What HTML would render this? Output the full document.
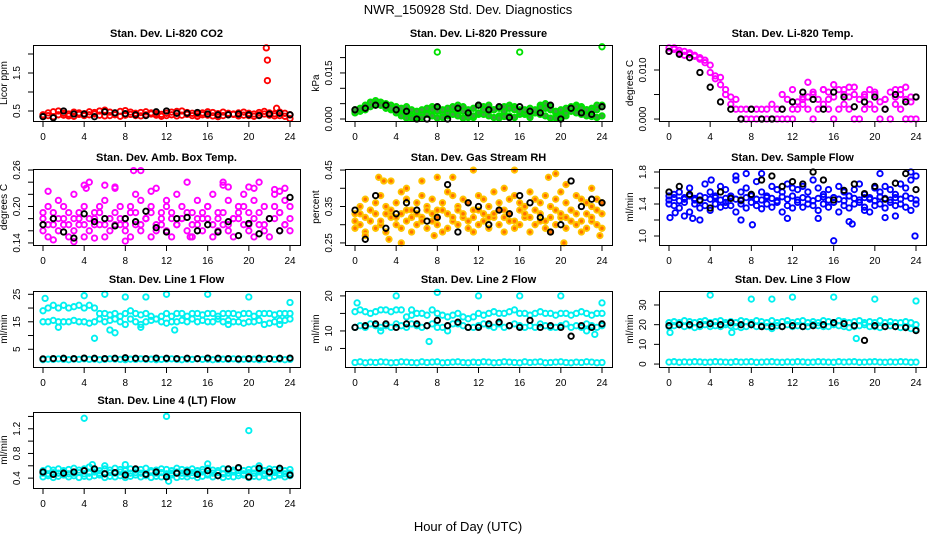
<!DOCTYPE html>
<html><head><meta charset="utf-8">
<style>
html,body{margin:0;padding:0;background:#fff;}
svg{display:block;font-family:"Liberation Sans",sans-serif;}
</style></head>
<body>
<svg id="c" width="936" height="540" viewBox="0 0 936 540">
<text x="468" y="14" text-anchor="middle" font-size="13">NWR_150928 Std. Dev. Diagnostics</text>
<text x="468" y="531" text-anchor="middle" font-size="13">Hour of Day (UTC)</text>
</svg>
<script>
// ---- data ----
const hourTicks = [0,4,8,12,16,20,24];

const co2Red1 = [0.40,0.45,0.48,0.50,0.44,0.42,0.47,0.45,0.43,0.48,0.46,0.50,0.52,0.47,0.45,0.49,0.51,0.47,0.44,0.46,0.48,0.45,0.43,0.41,0.44,0.47,0.49,0.50,0.46,0.44,0.42,0.45,0.48,0.46,0.43,0.47,0.44,0.42,0.45,0.47,0.44,0.42,0.46,0.49,0.45,0.43,0.47,0.44,0.40];
const co2Red2 = [0.36,0.38,0.35,0.40,0.39,0.37,0.36,0.41,0.38,0.40,0.42,0.39,0.37,0.38,0.40,0.36,0.39,0.41,0.38,0.37,0.40,0.42,0.39,0.36,0.38,0.40,0.37,0.39,0.41,0.38,0.36,0.40,0.39,0.37,0.35,0.38,0.40,0.41,0.37,0.39,0.38,0.36,0.40,0.42,0.39,0.37,0.38,0.36,0.30];
const co2OutHours = [21.7,21.8,21.8,22.7];
const co2OutVals = [2.16,1.84,1.30,0.57];
const co2Black = [0.35,0.32,0.50,0.42,0.42,0.35,0.48,0.45,0.43,0.40,0.38,0.48,0.50,0.44,0.44,0.46,0.42,0.40,0.40,0.42,0.40,0.38,0.42,0.44,0.40];

const presGreen1 = [0.0025,0.003,0.004,0.005,0.006,0.0055,0.005,0.0045,0.004,0.003,0.002,0.001,0.0005,0.0015,0.003,0.004,0.0035,0.002,0.001,0.003,0.0045,0.004,0.002,0.0005,0.0015,0.004,0.0045,0.003,0.001,0.0025,0.0045,0.004,0.003,0.0015,0.0005,0.002,0.0045,0.005,0.004,0.002,0.0005,0.001,0.003,0.0045,0.004,0.003,0.0035,0.0045,0.0045];
const presGreen2 = [0.002,0.0025,0.003,0.004,0.0045,0.0045,0.004,0.003,0.002,0.001,0.0003,0.0003,0.001,0.0005,0.0015,0.001,0.0003,0.0005,0.002,0.0015,0.001,0.0003,0.0005,0.001,0.002,0.0015,0.001,0.0005,0.0003,0.0008,0.001,0.0005,0.0015,0.002,0.0025,0.002,0.0015,0.001,0.0003,0.0003,0.001,0.002,0.0025,0.002,0.0015,0.001,0.0008,0.0005,0.001];
const presGreen3 = [0.003,0.0035,0.0045,0.0055,0.005,0.0045,0.0035,0.0035,0.003,0.0035,0.004,0.003,0.0025,0.003,0.0035,0.003,0.0025,0.003,0.0035,0.004,0.003,0.0025,0.003,0.0035,0.0045,0.003,0.0025,0.003,0.0035,0.004,0.0035,0.003,0.0025,0.003,0.0035,0.003,0.004,0.0035,0.003,0.0025,0.003,0.0035,0.004,0.004,0.0035,0.003,0.0025,0.003,0.004];
const presOutHours = [8,16,24];
const presOutVals = [0.0218,0.0218,0.0235];
const presBlack = [0.003,0.0035,0.0045,0.0045,0.003,0.0025,0.0,0.0,0.004,0.0,0.0035,0.002,0.0045,0.003,0.004,0.0005,0.004,0.0025,0.002,0.0045,0.0,0.0035,0.002,0.0015,0.004];

const tempMag1 = [0.0145,0.0142,0.0140,0.0138,0.0135,0.013,0.0125,0.012,0.011,0.0088,0.0085,0.006,0.0045,0.004,0.002,0.002,0.002,0.002,0.002,0.002,0.0,0.002,0.0,0.004,0.002,0.0035,0.004,0.0045,0.005,0.004,0.006,0.0055,0.0045,0.006,0.005,0.0065,0.005,0.004,0.0045,0.006,0.005,0.0035,0.004,0.0055,0.0045,0.006,0.004,0.0035,0.0045];
const tempMag2 = [0.0138,0.0145,0.0135,0.013,0.0132,0.0128,0.0122,0.0115,0.0095,0.0082,0.007,0.005,0.003,0.002,0.0,0.0,0.0,0.0,0.0,0.0,0.0,0.0,0.002,0.0,0.0,0.002,0.003,0.002,0.0,0.002,0.003,0.002,0.0,0.002,0.003,0.002,0.0,0.0,0.002,0.003,0.002,0.0,0.002,0.0,0.003,0.002,0.0,0.0,0.0];
const tempOutHours = [10,11,12,13,13.5,14,15,15.5,16,17,17.5,18,19,20,21,22,22.5,23,23.5];
const tempOutVals = [0.003,0.005,0.006,0.0045,0.0075,0.0055,0.006,0.004,0.007,0.006,0.0045,0.0065,0.005,0.0055,0.004,0.006,0.005,0.0065,0.0045];
const tempBlack = [0.0138,0.0132,0.0125,0.0095,0.0065,0.0035,0.002,0.0,0.002,0.0,0.0,0.002,0.0035,0.0055,0.004,0.002,0.0055,0.0045,0.0025,0.0035,0.0045,0.002,0.005,0.0035,0.0045];

const ambMag1 = [0.19,0.20,0.18,0.21,0.17,0.19,0.22,0.18,0.20,0.24,0.17,0.19,0.21,0.18,0.23,0.20,0.17,0.19,0.22,0.21,0.18,0.20,0.23,0.19,0.21,0.18,0.22,0.20,0.24,0.19,0.21,0.18,0.20,0.22,0.19,0.24,0.21,0.18,0.20,0.22,0.19,0.21,0.24,0.20,0.18,0.22,0.19,0.21,0.20];
const ambMag2 = [0.16,0.15,0.17,0.16,0.18,0.15,0.16,0.17,0.15,0.16,0.18,0.17,0.15,0.16,0.17,0.18,0.16,0.15,0.17,0.16,0.18,0.15,0.16,0.17,0.16,0.15,0.17,0.18,0.16,0.15,0.17,0.16,0.18,0.15,0.16,0.17,0.16,0.15,0.18,0.17,0.16,0.15,0.17,0.16,0.15,0.18,0.16,0.17,0.16];
const ambMag3 = [0.18,0.17,0.19,0.18,0.20,0.17,0.18,0.19,0.17,0.18,0.19,0.20,0.17,0.18,0.19,0.17,0.18,0.20,0.19,0.17,0.18,0.19,0.17,0.18,0.20,0.19,0.17,0.18,0.19,0.17,0.18,0.19,0.20,0.17,0.18,0.19,0.17,0.18,0.19,0.20,0.17,0.18,0.19,0.17,0.18,0.20,0.19,0.17,0.18];
const ambOutHours = [0.5,4,4.2,6,7,8.8,9.5,10.5,14.3,17.5,18,20,20.5,22.5,23,23.5,1,3,5,8];
const ambOutVals = [0.225,0.235,0.23,0.235,0.232,0.259,0.259,0.225,0.15,0.235,0.232,0.232,0.23,0.228,0.225,0.23,0.145,0.142,0.148,0.143];
const ambBlack = [0.17,0.18,0.158,0.148,0.188,0.175,0.18,0.168,0.18,0.175,0.192,0.165,0.158,0.18,0.182,0.16,0.17,0.158,0.175,0.152,0.172,0.155,0.18,0.16,0.215];

const rh1 = [0.33,0.35,0.37,0.34,0.36,0.38,0.35,0.33,0.36,0.39,0.37,0.34,0.36,0.38,0.35,0.37,0.34,0.36,0.39,0.38,0.35,0.37,0.36,0.34,0.38,0.37,0.35,0.39,0.36,0.34,0.37,0.38,0.36,0.35,0.39,0.37,0.36,0.38,0.35,0.37,0.39,0.36,0.34,0.38,0.37,0.36,0.35,0.37,0.36];
const rh2 = [0.29,0.30,0.28,0.31,0.29,0.30,0.28,0.32,0.30,0.29,0.31,0.28,0.30,0.32,0.29,0.31,0.30,0.28,0.29,0.31,0.30,0.32,0.29,0.28,0.30,0.31,0.29,0.32,0.30,0.28,0.31,0.29,0.30,0.32,0.28,0.30,0.31,0.29,0.28,0.30,0.32,0.29,0.31,0.30,0.28,0.29,0.31,0.30,0.29];
const rh3 = [0.31,0.33,0.32,0.34,0.33,0.31,0.33,0.34,0.32,0.33,0.34,0.32,0.33,0.31,0.34,0.33,0.32,0.34,0.33,0.32,0.34,0.33,0.31,0.32,0.34,0.33,0.32,0.33,0.34,0.32,0.33,0.31,0.34,0.33,0.32,0.34,0.33,0.31,0.32,0.34,0.33,0.32,0.34,0.33,0.31,0.33,0.32,0.34,0.33];
const rhOutHours = [2.3,2.8,3.5,5,6.5,8,9.5,11.5,14.5,15.5,18.8,19.5,20.5,23,23.8,3.3,4.5,7.7,20.3,1];
const rhOutVals = [0.43,0.42,0.42,0.40,0.42,0.43,0.43,0.45,0.40,0.45,0.43,0.44,0.41,0.40,0.27,0.26,0.25,0.27,0.25,0.27];
const rhBlack = [0.34,0.26,0.38,0.29,0.33,0.36,0.34,0.31,0.32,0.41,0.28,0.36,0.35,0.30,0.34,0.33,0.38,0.36,0.32,0.28,0.30,0.42,0.35,0.37,0.36];

const flow1 = [1.50,1.52,1.55,1.48,1.60,1.45,1.50,1.65,1.55,1.48,1.62,1.58,1.50,1.70,1.55,1.60,1.52,1.68,1.55,1.50,1.62,1.58,1.55,1.65,1.60,1.58,1.62,1.55,1.70,1.60,1.52,1.58,1.48,1.62,1.55,1.50,1.58,1.65,1.52,1.48,1.60,1.55,1.62,1.58,1.52,1.65,1.60,1.70,1.75];
const flow2 = [1.40,1.38,1.35,1.42,1.30,1.40,1.35,1.38,1.32,1.40,1.36,1.42,1.38,1.30,1.40,1.35,1.42,1.38,1.34,1.40,1.36,1.42,1.30,1.38,1.35,1.42,1.36,1.40,1.38,1.32,1.40,1.36,1.42,1.30,1.38,1.35,1.40,1.42,1.36,1.30,1.38,1.40,1.35,1.42,1.38,1.40,1.36,1.32,1.40];
const flow3 = [1.45,1.48,1.44,1.46,1.50,1.47,1.44,1.48,1.46,1.50,1.45,1.47,1.49,1.46,1.44,1.48,1.50,1.46,1.45,1.48,1.47,1.44,1.49,1.46,1.50,1.45,1.48,1.46,1.44,1.47,1.49,1.45,1.48,1.46,1.44,1.50,1.47,1.45,1.48,1.46,1.44,1.49,1.47,1.45,1.48,1.46,1.50,1.47,1.45];
const flowOutHours = [0.1,0.6,1.5,2.3,3,4.1,6.5,7,7.5,8.1,9,11.5,14.5,16,17.5,17.8,20.5,21,22,23.5,23.9,5.5,19];
const flowOutVals = [1.23,1.29,1.25,1.22,1.20,1.70,1.75,1.20,1.78,1.14,1.78,1.22,1.22,0.94,1.18,1.15,1.78,1.23,1.25,1.80,1.00,1.38,1.32];
const flowBlack = [1.55,1.62,1.52,1.45,1.35,1.55,1.47,1.45,1.52,1.70,1.75,1.62,1.68,1.65,1.80,1.70,1.45,1.57,1.65,1.53,1.62,1.46,1.66,1.78,1.58];

const l1a = [19,20,21,20,21,20,20.5,21,20,21,20,18,18,17.5,18,17,18,19,18,17.5,18,17,16,17,18,17,18,18,17,18,18,17.5,18,18,17,18,18,18,17.5,18,18,17,18,18,18,17.5,18,18,18];
const l1b = [15,15,15.5,15,15,15,15.5,15,15,14.5,15,16,15,15.5,16,15,14,16,15,14,15,15.5,16,15,14.5,15,15,15.5,15,16,15,15.5,15,15,16,15,15.5,15,15,14.5,15,15,15.5,14,14.5,15,15.5,15.5,16];
const l1base = [1.2,1.4,1.3,1.5,1.3,1.2,1.4,1.3,1.5,1.3,1.4,1.2,1.3,1.5,1.4,1.3,1.2,1.4,1.3,1.5,1.3,1.4,1.2,1.3,1.4,1.5,1.3,1.2,1.4,1.3,1.5,1.3,1.4,1.2,1.3,1.4,1.3,1.5,1.2,1.4,1.3,1.4,1.2,1.3,1.5,1.3,1.4,1.2,1.3];
const l1OutHours = [0.2,4,6,8,10,12,16,20,24,5,1.5,6.5,7,9.5,12.8,18,23];
const l1OutVals = [23.5,24.5,25,24,24,25,25,24,22,9,13,12,11,13,12,14,14];
const l1Black = [1.5,1.6,1.7,1.6,1.8,1.7,1.6,1.7,1.9,1.7,1.6,1.8,1.7,1.6,1.7,1.6,1.8,1.7,1.6,1.5,1.6,1.7,1.6,1.7,1.8];

const l2a = [15.5,16,15.5,15,15.5,16,16,15.5,16,16,14,14.5,15,15,14.5,16,15,14.5,14,14.5,15,14,13.5,14,15,14.5,15,15.5,15,15,15.5,16,15,15,14.5,15,15.5,15,15,14.5,15,15,14.5,15,15.5,15,14.5,15,15];
const l2b = [11,11.5,11,12,11.5,11,11.5,11,12,11.5,11,12,11.5,11,11.5,12,11,11,11.5,12,12,11.5,11,11,11.5,12,11.5,11,12,11,11.5,12,11.5,11,11.5,11,12,11.5,11,11,11.5,12,11,11.5,11,12,11.5,11,11.5];
const l2base = [1.0,1.2,0.9,1.1,1.0,1.2,1.1,0.9,1.0,1.2,1.1,1.0,0.9,1.2,1.0,1.1,1.2,0.9,1.0,1.1,1.2,1.0,0.9,1.1,1.0,1.2,1.1,0.9,1.0,1.2,1.1,1.0,0.9,1.2,1.0,1.1,1.2,0.9,1.0,1.1,1.2,1.0,0.9,1.1,1.0,1.2,1.1,0.9,1.0];
const l2OutHours = [0.2,4,5.5,8,12,16,20,24,7.2,2.5,9,22.5,23.3];
const l2OutVals = [18,20,16,21,20,20,20,18,7,10,10,10,9];
const l2Black = [11,11.5,12,12,11,12,12,11.5,13,11.5,12.5,11,11,12,12.5,11.5,11,13,11,11.5,11,8.5,11.5,11,12];

const l3a = [21,21.5,21,22,21.5,21,21.5,22,21,21.5,22,21,21.5,21,22,21.5,21,22,21.5,21,22,21,21.5,22,21,21.5,22,21,21.5,21,22,21.5,21,22,21.5,21,21.5,22,21,21.5,21,22,21,21.5,21,21,21.5,21,20];
const l3b = [19,19.5,20,19,19.5,18.5,19,20,19,19.5,19,20,19.5,19,18.5,19,20,19,19.5,19,18,19.5,19,20,19,19.5,19,19,20,19.5,19,19,20,19.5,19,18.5,19,19.5,20,19,19,18.5,19,19.5,19,18.5,19,18,17.5];
const l3base = [1.0,1.2,0.9,1.1,1.0,1.2,1.1,0.9,1.0,1.2,1.1,1.0,0.9,1.2,1.0,1.1,1.2,0.9,1.0,1.1,1.2,1.0,0.9,1.1,1.0,1.2,1.1,0.9,1.0,1.2,1.1,1.0,0.9,1.2,1.0,1.1,1.2,0.9,1.0,1.1,1.2,1.0,0.9,1.1,1.0,1.2,1.1,0.9,1.0];
const l3OutHours = [0.1,4,8,10,12,16,20,24,6.1,18.2];
const l3OutVals = [16,35,33,33,34,34,33,32,16,13];
const l3Black = [19.5,20,20,20,20.5,20,21,20,20,19,19,19,19.5,19,19.5,20,21,20.5,19.5,12,19.5,19,19,18.5,17];

const l4a = [0.52,0.55,0.53,0.55,0.52,0.54,0.56,0.53,0.55,0.58,0.54,0.52,0.55,0.53,0.56,0.54,0.52,0.55,0.53,0.54,0.56,0.52,0.53,0.55,0.54,0.52,0.56,0.54,0.53,0.55,0.52,0.54,0.56,0.53,0.52,0.55,0.54,0.53,0.56,0.52,0.54,0.55,0.53,0.52,0.55,0.54,0.53,0.52,0.54];
const l4b = [0.42,0.44,0.41,0.43,0.45,0.42,0.44,0.41,0.43,0.42,0.44,0.45,0.41,0.43,0.42,0.44,0.41,0.43,0.45,0.42,0.44,0.41,0.43,0.42,0.44,0.45,0.41,0.43,0.42,0.44,0.41,0.43,0.45,0.42,0.44,0.41,0.43,0.42,0.44,0.45,0.41,0.43,0.42,0.44,0.41,0.43,0.45,0.42,0.44];
const l4c = [0.48,0.47,0.49,0.48,0.50,0.47,0.48,0.49,0.47,0.48,0.50,0.48,0.47,0.49,0.48,0.50,0.47,0.48,0.49,0.48,0.47,0.50,0.48,0.49,0.47,0.48,0.50,0.48,0.47,0.49,0.48,0.50,0.47,0.48,0.49,0.47,0.48,0.50,0.48,0.47,0.49,0.48,0.50,0.47,0.48,0.49,0.48,0.47,0.48];
const l4OutHours = [4,12,20,4.8,8,12.2,16,6,21];
const l4OutVals = [1.37,1.40,1.17,0.62,0.62,0.35,0.63,0.60,0.60];
const l4Black = [0.5,0.46,0.48,0.5,0.52,0.55,0.47,0.49,0.45,0.55,0.46,0.5,0.42,0.48,0.5,0.46,0.52,0.44,0.55,0.57,0.42,0.56,0.5,0.56,0.45];

// ---- rendering ----
const NS = 'http://www.w3.org/2000/svg';
const svg = document.getElementById('c');
const colLeft = [33,345,659];
const rowTop = [45,169,291,412];
const W = 267, H = 76;

function mk(tag, attrs, parent){
  const e = document.createElementNS(NS, tag);
  for (const k in attrs) e.setAttribute(k, attrs[k]);
  (parent||svg).appendChild(e);
  return e;
}
function uniformHours(n){ const h=[]; for(let i=0;i<n;i++) h.push(i*24/(n-1)); return h; }

function panel(p){
  const L = colLeft[p.col], T = rowTop[p.row];
  const g = mk('g', {});
  
  
  const xs = h => L + 10 + h/24*247;
  const ys = v => T + H - (v - p.yMin)/(p.yMax - p.yMin)*H;
  const t = mk('text', {x: L+W/2, y: T-8, 'text-anchor':'middle', 'font-size':11, 'font-weight':'bold'}, g);
  t.textContent = p.title;
  
  
  p.series.forEach(s => {
    const hrs = s.hours || uniformHours(s.values.length);
    const sg = mk('g', {fill: s.fill||'none', stroke: s.color, 'stroke-width': 1.9}, g);
    
    
    s.values.forEach((v,i) => {
      const c = mk('circle', {cx: xs(hrs[i]).toFixed(1), cy: ys(v).toFixed(1), r: 2.7}, sg);
      
      
    });
  });
  const b = mk('rect', {x:L+0.5, y:T+0.5, width:W, height:H, fill:'none', stroke:'#000', 'stroke-width':1}, g);
  
  
  const xa = mk('g', {}, g);
  
  
  hourTicks.forEach(h => {
    const x = xs(h);
    mk('line', {x1:x, x2:x, y1:T+H+1, y2:T+H+6, stroke:'#000'}, xa);
    const tx = mk('text', {x:x, y:T+H+19, 'text-anchor':'middle', 'font-size':10}, xa);
    tx.textContent = h;
  });
  const ya = mk('g', {}, g);
  
  
  p.yTicks.forEach(v => {
    const y = ys(v);
    mk('line', {x1:L-5, x2:L, y1:y, y2:y, stroke:'#000'}, ya);
  });
  p.yLabels.forEach(v => {
    const y = ys(parseFloat(v));
    const tx = mk('text', {x:L-13, y:y, 'text-anchor':'middle', 'font-size':10, transform:`rotate(-90 ${L-13} ${y})`}, ya);
    tx.textContent = v;
  });
  const yl = mk('text', {x:L-26, y:T+H/2, 'text-anchor':'middle', 'font-size':10, transform:`rotate(-90 ${L-26} ${T+H/2})`}, g);
  yl.textContent = p.ylab;
  
  
}

const CY = '#00f0f0';
const panels = [
 {name:'co2', col:0,row:0,title:'Stan. Dev. Li-820 CO2', ylab:'Licor ppm', yMin:0.237, yMax:2.237,
  yTicks:[0.5,1,1.5,2], yLabels:['0.5','1.5'],
  series:[{id:'red-a',color:'#ff0000',values:co2Red1},{id:'red-b',color:'#ff0000',values:co2Red2},
          {id:'red-outliers',color:'#ff0000',hours:co2OutHours,values:co2OutVals},{id:'black',color:'#000',values:co2Black}]},
 {name:'pressure', col:1,row:0,title:'Stan. Dev. Li-820 Pressure', ylab:'kPa', yMin:-0.00065, yMax:0.0241,
  yTicks:[0,0.005,0.01,0.015,0.02], yLabels:['0.000','0.015'],
  series:[{id:'green-a',color:'#00e000',fill:'#40a040',values:presGreen1},{id:'green-b',color:'#00e000',fill:'#40a040',values:presGreen2},
          {id:'green-c',color:'#00e000',fill:'#40a040',values:presGreen3},{id:'green-outliers',color:'#00e000',hours:presOutHours,values:presOutVals},{id:'black',color:'#000',values:presBlack}]},
 {name:'temp', col:2,row:0,title:'Stan. Dev. Li-820 Temp.', ylab:'degrees C', yMin:-0.0004, yMax:0.0151,
  yTicks:[0,0.005,0.01], yLabels:['0.000','0.010'],
  series:[{id:'magenta-a',color:'#ff00ff',values:tempMag1},{id:'magenta-b',color:'#ff00ff',values:tempMag2},
          {id:'magenta-c',color:'#ff00ff',hours:tempOutHours,values:tempOutVals},{id:'black',color:'#000',values:tempBlack}]},
 {name:'amb-box-temp', col:0,row:1,title:'Stan. Dev. Amb. Box Temp.', ylab:'degrees C', yMin:0.1366, yMax:0.2617,
  yTicks:[0.14,0.16,0.18,0.20,0.22,0.24,0.26], yLabels:['0.14','0.20','0.26'],
  series:[{id:'magenta-a',color:'#ff00ff',values:ambMag1},{id:'magenta-b',color:'#ff00ff',values:ambMag2},{id:'magenta-c',color:'#ff00ff',values:ambMag3},
          {id:'magenta-outliers',color:'#ff00ff',hours:ambOutHours,values:ambOutVals},{id:'black',color:'#000',values:ambBlack}]},
 {name:'gas-rh', col:1,row:1,title:'Stan. Dev. Gas Stream RH', ylab:'percent', yMin:0.2443, yMax:0.4529,
  yTicks:[0.25,0.30,0.35,0.40,0.45], yLabels:['0.25','0.35','0.45'],
  series:[{id:'orange-a',color:'#ffc400',fill:'#ff7000',values:rh1},{id:'orange-b',color:'#ffc400',fill:'#ff7000',values:rh2},{id:'orange-c',color:'#ffc400',fill:'#ff7000',values:rh3},
          {id:'orange-outliers',color:'#ffc400',fill:'#ff7000',hours:rhOutHours,values:rhOutVals},{id:'black',color:'#000',values:rhBlack}]},
 {name:'sample-flow', col:2,row:1,title:'Stan. Dev. Sample Flow', ylab:'ml/min', yMin:0.8875, yMax:1.8375,
  yTicks:[1.0,1.2,1.4,1.6,1.8], yLabels:['1.0','1.4','1.8'],
  series:[{id:'blue-a',color:'#0000ff',values:flow1},{id:'blue-b',color:'#0000ff',values:flow2},{id:'blue-c',color:'#0000ff',values:flow3},
          {id:'blue-outliers',color:'#0000ff',hours:flowOutHours,values:flowOutVals},{id:'black',color:'#000',values:flowBlack}]},
 {name:'line1-flow', col:0,row:2,title:'Stan. Dev. Line 1 Flow', ylab:'ml/min', yMin:-1.45, yMax:26.2,
  yTicks:[5,10,15,20,25], yLabels:['5','15','25'],
  series:[{id:'cyan-a',color:CY,values:l1a},{id:'cyan-b',color:CY,values:l1b},{id:'cyan-base',color:CY,values:l1base},
          {id:'cyan-outliers',color:CY,hours:l1OutHours,values:l1OutVals},{id:'black',color:'#000',values:l1Black}]},
 {name:'line2-flow', col:1,row:2,title:'Stan. Dev. Line 2 Flow', ylab:'ml/min', yMin:-0.29, yMax:21.4,
  yTicks:[5,10,15,20], yLabels:['5','10','20'],
  series:[{id:'cyan-a',color:CY,values:l2a},{id:'cyan-b',color:CY,values:l2b},{id:'cyan-base',color:CY,values:l2base},
          {id:'cyan-outliers',color:CY,hours:l2OutHours,values:l2OutVals},{id:'black',color:'#000',values:l2Black}]},
 {name:'line3-flow', col:2,row:2,title:'Stan. Dev. Line 3 Flow', ylab:'ml/min', yMin:-1.5, yMax:37.1,
  yTicks:[0,10,20,30], yLabels:['0','10','20','30'],
  series:[{id:'cyan-a',color:CY,values:l3a},{id:'cyan-b',color:CY,values:l3b},{id:'cyan-base',color:CY,values:l3base},
          {id:'cyan-outliers',color:CY,hours:l3OutHours,values:l3OutVals},{id:'black',color:'#000',values:l3Black}]},
 {name:'line4-flow', col:0,row:3,title:'Stan. Dev. Line 4 (LT) Flow', ylab:'ml/min', yMin:0.24, yMax:1.472,
  yTicks:[0.4,0.6,0.8,1.0,1.2,1.4], yLabels:['0.4','0.8','1.2'],
  series:[{id:'cyan-a',color:CY,values:l4a},{id:'cyan-b',color:CY,values:l4b},{id:'cyan-c',color:CY,values:l4c},
          {id:'cyan-outliers',color:CY,hours:l4OutHours,values:l4OutVals},{id:'black',color:'#000',values:l4Black}]}
];
panels.forEach(panel);
</script>
</body></html>
